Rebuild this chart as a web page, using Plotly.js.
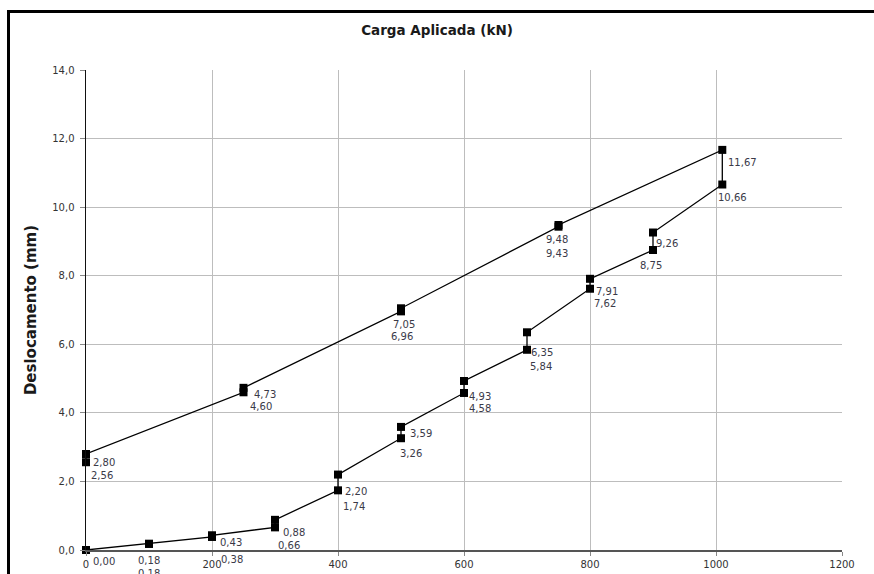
<!DOCTYPE html>
<html>
<head>
<meta charset="utf-8">
<script src="https://cdn.plot.ly/plotly-3.0.1.min.js"></script>
<style>
  html, body { margin: 0; padding: 0; background: #fff; }
  #wrap { position: relative; width: 874px; height: 574px; overflow: hidden; }
  #frame { position: absolute; left: 7px; top: 10px; width: 900px; height: 600px;
           border-left: 3px solid #000; border-top: 3px solid #000; box-sizing: border-box; pointer-events: none; }
  #chart { position: absolute; left: 0; top: 0; width: 874px; height: 574px; }
</style>
</head>
<body>
<div id="wrap">
  <div id="chart"></div>
  <div id="frame"></div>
</div>
<script>
// ---- data ----
const cargaCarregamento = [0, 0, 100, 100, 200, 200, 300, 300, 400, 400, 500, 500, 600, 600, 700, 700, 800, 800, 900, 900, 1010, 1010];
const deslocCarregamento = [0.00, 0.00, 0.18, 0.18, 0.38, 0.43, 0.66, 0.88, 1.74, 2.20, 3.26, 3.59, 4.58, 4.93, 5.84, 6.35, 7.62, 7.91, 8.75, 9.26, 10.66, 11.67];
const cargaDescarregamento = [750, 750, 500, 500, 250, 250, 0, 0];
const deslocDescarregamento = [9.48, 9.43, 7.05, 6.96, 4.73, 4.60, 2.80, 2.56];
const xTicks = [0, 200, 400, 600, 800, 1000, 1200];
const yTicks = [0, 2, 4, 6, 8, 10, 12, 14];

// ---- label offsets (style, pixels); null = label not visible in the reference ----
const offCarregamento = [[18,11],null,[0,17],[0,30],[20,23],[19,7],[14,18],[19,13],[16,16],[18,17],[10,15],[20,7],[16,16],[16,16],[14,17],[15,20],[15,15],[17,13],[-2,15],[14,11],[10,13],[20,13]];
const offDescarregamento = [[-2,15],[-2,27],[3,16],[1,25],[21,7],[17,14],[18,8],[16,13]];

const xs = cargaCarregamento.concat(cargaDescarregamento);
const ys = deslocCarregamento.concat(deslocDescarregamento);
const offs = offCarregamento.concat(offDescarregamento);

const fmt = v => v.toFixed(2).replace('.', ',');

const annotations = [];
xs.forEach((x, i) => {
  if (!offs[i]) return;
  annotations.push({
    x: x, y: ys[i], xref: 'x', yref: 'y',
    text: fmt(ys[i]), showarrow: false,
    xshift: offs[i][0], yshift: -offs[i][1],
    xanchor: 'center', yanchor: 'middle',
    font: {family: 'DejaVu Sans, Verdana, sans-serif', size: 10, color: '#3a3a48'}
  });
});

const trace = {
  x: xs, y: ys, type: 'scatter', mode: 'lines+markers',
  line: {color: '#000', width: 1.3},
  marker: {symbol: 'square', size: 8, color: '#000'},
  cliponaxis: false, hoverinfo: 'x+y'
};

const layout = {
  width: 874, height: 574,
  margin: {l: 86, r: 32, t: 70, b: 24},
  paper_bgcolor: '#fff', plot_bgcolor: '#fff',
  separators: ',.',
  showlegend: false,
  title: {
    text: 'Carga Aplicada (kN)', x: 0.5, xref: 'container', xanchor: 'center',
    y: 1 - 30/574, yref: 'container', yanchor: 'middle',
    font: {family: 'DejaVu Sans, Verdana, sans-serif', size: 13.5, color: '#1a1a1a', weight: 'bold'}
  },
  xaxis: {
    range: [0, 1200], tickvals: xTicks, ticktext: xTicks.map(String),
    showgrid: true, gridcolor: '#bdbdbd', gridwidth: 1,
    showline: true, linecolor: '#555', linewidth: 2,
    zeroline: false, ticks: 'outside', ticklen: 4, tickcolor: '#888',
    tickfont: {family: 'DejaVu Sans, Verdana, sans-serif', size: 10, color: '#333'},
    fixedrange: true
  },
  yaxis: {
    range: [0, 14], tickvals: yTicks, tickformat: '.1f',
    showgrid: true, gridcolor: '#bdbdbd', gridwidth: 1,
    showline: true, linecolor: '#111', linewidth: 1.5,
    zeroline: false, ticks: 'outside', ticklen: 5, tickcolor: '#888',
    ticklabelstandoff: 3,
    tickfont: {family: 'DejaVu Sans, Verdana, sans-serif', size: 10, color: '#333'},
    title: {text: 'Deslocamento (mm)', standoff: 12,
            font: {family: 'DejaVu Sans, Verdana, sans-serif', size: 15, color: '#1a1a1a', weight: 'bold'}},
    automargin: false, fixedrange: true
  },
  annotations: annotations
};

Plotly.newPlot('chart', [trace], layout, {displayModeBar: false, staticPlot: true});
</script>
</body>
</html>
